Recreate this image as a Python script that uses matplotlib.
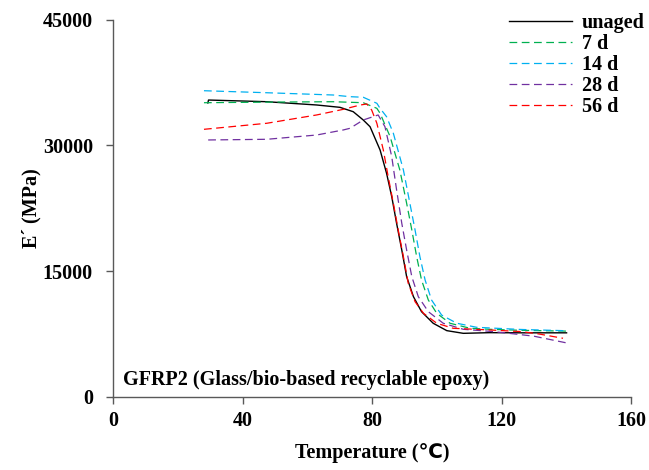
import matplotlib.pyplot as plt

# Storage modulus E' (MPa) vs temperature (C)
t_unaged = [29.3, 29.5, 47.5, 62.9, 70.1, 74.2, 77.3, 79.4, 82.5, 84.5, 86.1, 87.6,
            89.2, 90.7, 92.8, 95.3, 98.9, 103.1, 108.2, 116.4, 126, 140.1]
e_unaged = [35050, 35400, 35200, 34810, 34530, 34010, 33020, 32220, 29440, 26670, 23880, 20700,
            17520, 14340, 11960, 10170, 8790, 7910, 7590, 7670, 7650, 7650]

t_7d = [28.1, 47.5, 68, 77.3, 81.5, 82.5, 85.6, 88.6, 90.7, 92.3, 93.8, 95.3, 97.4, 100,
        104.1, 110.3, 116.4, 126, 140.5]
e_7d = [35080, 35150, 35200, 35080, 34410, 33820, 31030, 27060, 23090, 19910, 16720, 13950, 11560, 9980,
        8790, 8190, 8070, 7950, 7850]

t_14d = [28.1, 47.5, 68, 73.2, 77.3, 81.5, 82.5, 84.5, 86.6, 89.7, 91.7, 93.3, 94.8, 96.4,
         98.4, 101.5, 106.2, 112.3, 116.4, 126, 140]
e_14d = [36510, 36270, 36000, 35800, 35730, 35010, 34410, 33410, 31430, 27060, 23090, 19910, 16720, 13950,
         11560, 9770, 8790, 8310, 8230, 8050, 7900]

t_28d = [29.4, 47.5, 62.9, 71.1, 73.2, 77.3, 81.9, 84, 86.1, 87.6, 89.2, 90.7, 92.3, 94.3, 97.4,
         102, 108.2, 116.4, 121, 130, 140.7]
e_28d = [30640, 30720, 31230, 31830, 32030, 33020, 33620, 32220, 28640, 24680, 20700, 17520, 14340, 11960, 10170,
         8790, 8070, 7830, 7650, 7250, 6400]

t_56d = [28.1, 47.5, 62.9, 71.1, 76.3, 78.4, 79.9, 81.5, 83.5, 85, 86.6, 88.1, 89.7, 91.2,
         93.3, 95.9, 100, 105.1, 116.4, 126, 131, 139]
e_56d = [31910, 32630, 33620, 34290, 34800, 34930, 34210, 32630, 29440, 26260, 23090, 19910, 16720, 13550,
         11360, 9980, 8790, 8190, 7990, 7800, 7550, 7000]

labels = ["unaged", "7 d", "14 d", "28 d", "56 d"]
temps = [t_unaged, t_7d, t_14d, t_28d, t_56d]
moduli = [e_unaged, e_7d, e_14d, e_28d, e_56d]
colors = ["#000000", "#00B050", "#00B0F0", "#7030A0", "#FF0000"]

plt.rcParams["font.family"] = ["Liberation Serif", "DejaVu Sans"]
plt.rcParams["font.weight"] = "bold"

FS = 14.5
AXC = "#595959"

fig = plt.figure(figsize=(6.49, 4.70), dpi=100)
ax = fig.add_axes([113 / 649, 73 / 470, 518 / 649, 377.5 / 470])

for name, t, e, c in zip(labels, temps, moduli, colors):
    if name == "unaged":
        ax.plot(t, e, color=c, lw=1.0, label=name)
    else:
        ax.plot(t, e, color=c, lw=0.9, ls=(0, (6.2, 3.6)), label=name)

ax.set_xlim(0, 160)
ax.set_ylim(0, 45000)
ax.set_xticks([0, 40, 80, 120, 160])
ax.set_yticks([0, 15000, 30000, 45000])

for s in ["top", "right"]:
    ax.spines[s].set_visible(False)
for s in ["left", "bottom"]:
    ax.spines[s].set_color(AXC)
    ax.spines[s].set_linewidth(1.0)

ax.tick_params(direction="out", length=5, width=1, color=AXC, labelsize=FS)
ax.tick_params(axis="x", pad=5)
ax.tick_params(axis="y", pad=9.5)
for lbl in ax.get_xticklabels() + ax.get_yticklabels():
    lbl.set_fontweight("bold")

ax.set_xlabel("Temperature (℃)", fontsize=FS, fontweight="bold")
ax.xaxis.set_label_coords(0.5, -0.122)
ax.set_ylabel("E´ (MPa)", fontsize=FS, fontweight="bold")
ax.yaxis.set_label_coords(-0.139, 0.5)

ax.text(0.019, 0.045, "GFRP2 (Glass/bio-based recyclable epoxy)", transform=ax.transAxes,
        fontsize=FS, fontweight="bold", ha="left", va="center")

leg = ax.legend(loc="upper right", bbox_to_anchor=(645 / 649, 1 - 13 / 470), bbox_transform=fig.transFigure,
                frameon=False, fontsize=FS, handlelength=3.15, handletextpad=0.5,
                labelspacing=0.05, borderaxespad=0, borderpad=0)
for txt in leg.get_texts():
    txt.set_fontweight("bold")

fig.savefig("out.png", dpi=100)
